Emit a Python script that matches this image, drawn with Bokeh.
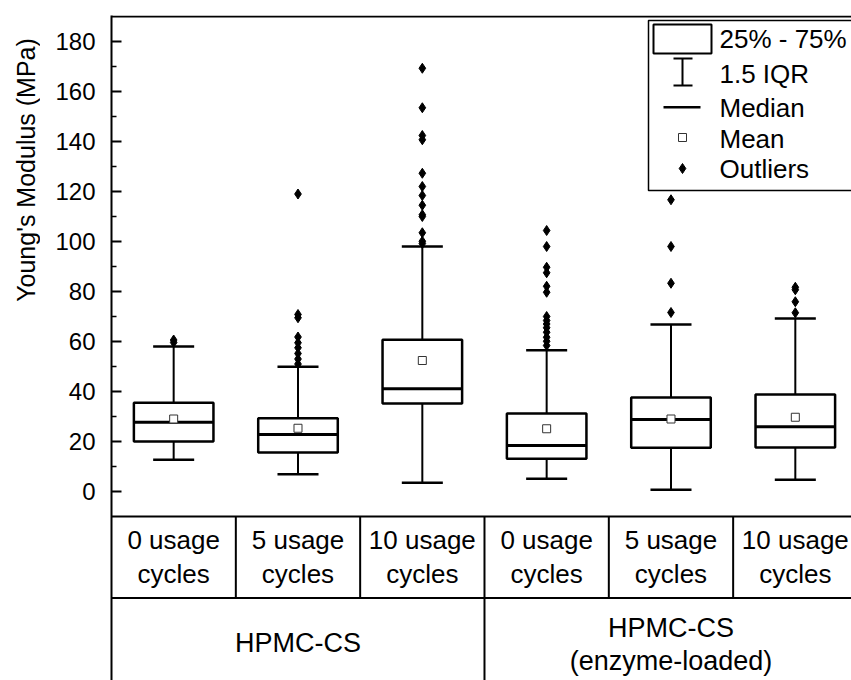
import math
from bokeh.plotting import figure
from bokeh.layouts import row
from bokeh.models import ColumnDataSource, Range1d, FixedTicker
from bokeh.core.properties import value
from bokeh.embed import file_html
from bokeh.resources import INLINE

# ---------------- data ----------------
cycles = ["0 usage\ncycles", "5 usage\ncycles", "10 usage\ncycles",
          "0 usage\ncycles", "5 usage\ncycles", "10 usage\ncycles"]
groups = ["HPMC-CS", "HPMC-CS\n(enzyme-loaded)"]
q1 = [20.0, 15.6, 35.2, 13.1, 17.5, 17.6]
median = [27.7, 22.8, 41.1, 18.4, 28.8, 25.9]
q3 = [35.5, 29.3, 60.7, 31.2, 37.6, 38.8]
whisker_lo = [12.7, 6.9, 3.5, 5.1, 0.7, 4.7]
whisker_hi = [58.0, 49.9, 98.0, 56.5, 66.8, 69.2]
mean = [29.0, 25.3, 52.4, 25.1, 29.0, 29.7]
outliers = [
    [59.6, 60.6],
    [119.0, 70.8, 69.5, 61.8, 59.5, 57.5, 55.2, 53.0, 51.0],
    [169.3, 153.5, 142.4, 140.7, 127.3, 122.0, 118.4, 114.5, 110.7, 110.0,
     103.5, 100.1, 99.2],
    [104.4, 98.0, 89.7, 87.5, 82.1, 79.7, 70.0, 68.4, 67.0, 65.5, 63.7, 61.7,
     60.1, 58.4],
    [116.7, 98.0, 83.3, 71.6],
    [81.7, 80.7, 75.9, 71.5],
]
y_ticks = [0, 20, 40, 60, 80, 100, 120, 140, 160, 180]
y_minor_ticks = [10, 30, 50, 70, 90, 110, 130, 150, 170]
y_label = "Young's Modulus (MPa)"
legend_labels = ["25% - 75%", "1.5 IQR", "Median", "Mean", "Outliers"]

# ---------------- layout ----------------
FONT = "Liberation Sans"
TOTAL_W, H = 851, 680
LAB_W = 40                 # narrow figure that carries the y-axis title
W = TOTAL_W - LAB_W
FRAME_LEFT = 111           # page px of the plot frame's left edge
LEFT = FRAME_LEFT - LAB_W
TOP = 15
UNIT = 124.33              # px per category
PXY = 2.5                  # px per MPa
x_end = (W - LEFT) / UNIT
y_end = 190.4
y_start = y_end - (H - TOP) / PXY
y_plot_bottom = -10.0
y_row_sep = -42.6


def fx(px):   # page px -> data x
    return (px - FRAME_LEFT) / UNIT


def fy(py):   # page px -> data y
    return y_end - (py - TOP) / PXY


# ---------- axis-title strip ----------
lab = figure(width=LAB_W, height=H, output_backend="svg", toolbar_location=None,
             x_range=Range1d(0, LAB_W), y_range=Range1d(H, 0),
             x_axis_location=None, y_axis_location=None,
             min_border_left=0, min_border_right=0, min_border_top=0,
             min_border_bottom=0)
lab.outline_line_color = None
lab.grid.visible = False
lab.text(x=[25], y=[158], text=[y_label], angle=math.pi / 2,
         text_font=value(FONT), text_font_size="25px", text_align="center",
         text_baseline="middle", text_color="black")

# ---------- main plot ----------
p = figure(width=W, height=H, output_backend="svg", toolbar_location=None,
           x_range=Range1d(0, x_end), y_range=Range1d(y_start, y_end),
           x_axis_location=None, min_border_left=LEFT, min_border_top=TOP,
           min_border_right=0, min_border_bottom=0)
p.outline_line_color = None
p.grid.visible = False
p.background_fill_color = "white"
p.border_fill_color = "white"

ax = p.yaxis[0]
ax.ticker = FixedTicker(ticks=y_ticks, minor_ticks=y_minor_ticks)
ax.axis_line_width = 2
ax.axis_line_color = "black"
ax.major_tick_in = 10
ax.major_tick_out = 0
ax.minor_tick_in = 5
ax.minor_tick_out = 0
ax.major_tick_line_width = 2
ax.minor_tick_line_width = 1.5
ax.major_label_text_font = FONT
ax.major_label_text_font_size = "24px"
ax.major_label_text_color = "black"
ax.major_label_standoff = 16

# ---------------- boxes ----------------
n = len(q1)
xs = [i + 0.5 for i in range(n)]
BOX_W = 0.64
CAP_W = 0.33
src = ColumnDataSource(dict(
    x=xs, q1=q1, q3=q3, med=median, lo=whisker_lo, hi=whisker_hi, mean=mean,
    bl=[x - BOX_W / 2 for x in xs], br=[x + BOX_W / 2 for x in xs],
    cl=[x - CAP_W / 2 for x in xs], cr=[x + CAP_W / 2 for x in xs],
))
p.segment(x0="x", y0="lo", x1="x", y1="hi", source=src, line_color="black", line_width=2)
p.segment(x0="cl", y0="hi", x1="cr", y1="hi", source=src, line_color="black", line_width=2.5)
p.segment(x0="cl", y0="lo", x1="cr", y1="lo", source=src, line_color="black", line_width=2.5)
p.quad(left="bl", right="br", bottom="q1", top="q3", source=src,
       fill_color="white", line_color="black", line_width=2.5)
p.segment(x0="bl", y0="med", x1="br", y1="med", source=src, line_color="black", line_width=3)
p.scatter(x="x", y="mean", source=src, marker="square", size=8,
          fill_color="white", line_color="#333333", line_width=1)

ox, oy = [], []
for i, vals in enumerate(outliers):
    ox += [xs[i]] * len(vals)
    oy += vals
p.scatter(x=ox, y=oy, marker="diamond", size=10, fill_color="black", line_color="black")

# ---------------- category table below the plot ----------------
p.segment(x0=[0, 0, 0], y0=[190, y_plot_bottom, y_row_sep],
          x1=[x_end + 1] * 3, y1=[190, y_plot_bottom, y_row_sep],
          line_color="black", line_width=2)
p.segment(x0=list(range(1, n)), y0=[y_plot_bottom] * (n - 1),
          x1=list(range(1, n)), y1=[y_row_sep] * (n - 1),
          line_color="black", line_width=2)
p.segment(x0=[n / 2], y0=[y_row_sep], x1=[n / 2], y1=[y_start - 5],
          line_color="black", line_width=2)

p.text(x=xs, y=[(y_plot_bottom + y_row_sep) / 2] * n, text=cycles,
       text_font=value(FONT), text_font_size="26px", text_align="center",
       text_baseline="middle", text_line_height=1.14, text_color="black")
gx = [n / 4, 3 * n / 4]
p.text(x=gx, y=[fy(642), fy(644)], text=groups,
       text_font=value(FONT), text_font_size="27px", text_align="center",
       text_baseline="middle", text_line_height=1.13, text_color="black")

# ---------------- legend (drawn) ----------------
p.quad(left=[fx(648)], right=[x_end + 1], top=[fy(20)], bottom=[fy(190)],
       fill_color="white", line_color="black", line_width=1.5)
p.quad(left=[fx(653)], right=[fx(711)], top=[fy(24)], bottom=[fy(53)],
       fill_color="white", line_color="black", line_width=2)
p.segment(x0=[fx(682), fx(673), fx(673), fx(663)],
          y0=[fy(58), fy(58), fy(85), fy(106.7)],
          x1=[fx(682), fx(692), fx(692), fx(700)],
          y1=[fy(85), fy(58), fy(85), fy(106.7)],
          line_color="black", line_width=[2, 2, 2, 2.5])
p.scatter(x=[fx(682)], y=[fy(137)], marker="square", size=8,
          fill_color="white", line_color="#333333", line_width=1)
p.scatter(x=[fx(682)], y=[fy(168)], marker="diamond", size=10,
          fill_color="black", line_color="black")
p.text(x=[fx(719)] * 5, y=[fy(38.7), fy(73), fy(107), fy(138), fy(168)],
       text=legend_labels, text_font=value(FONT), text_font_size="26px",
       text_align="left", text_baseline="middle", text_color="black")

layout = row(lab, p, spacing=0)
open("out.html", "w").write(file_html(layout, INLINE))
